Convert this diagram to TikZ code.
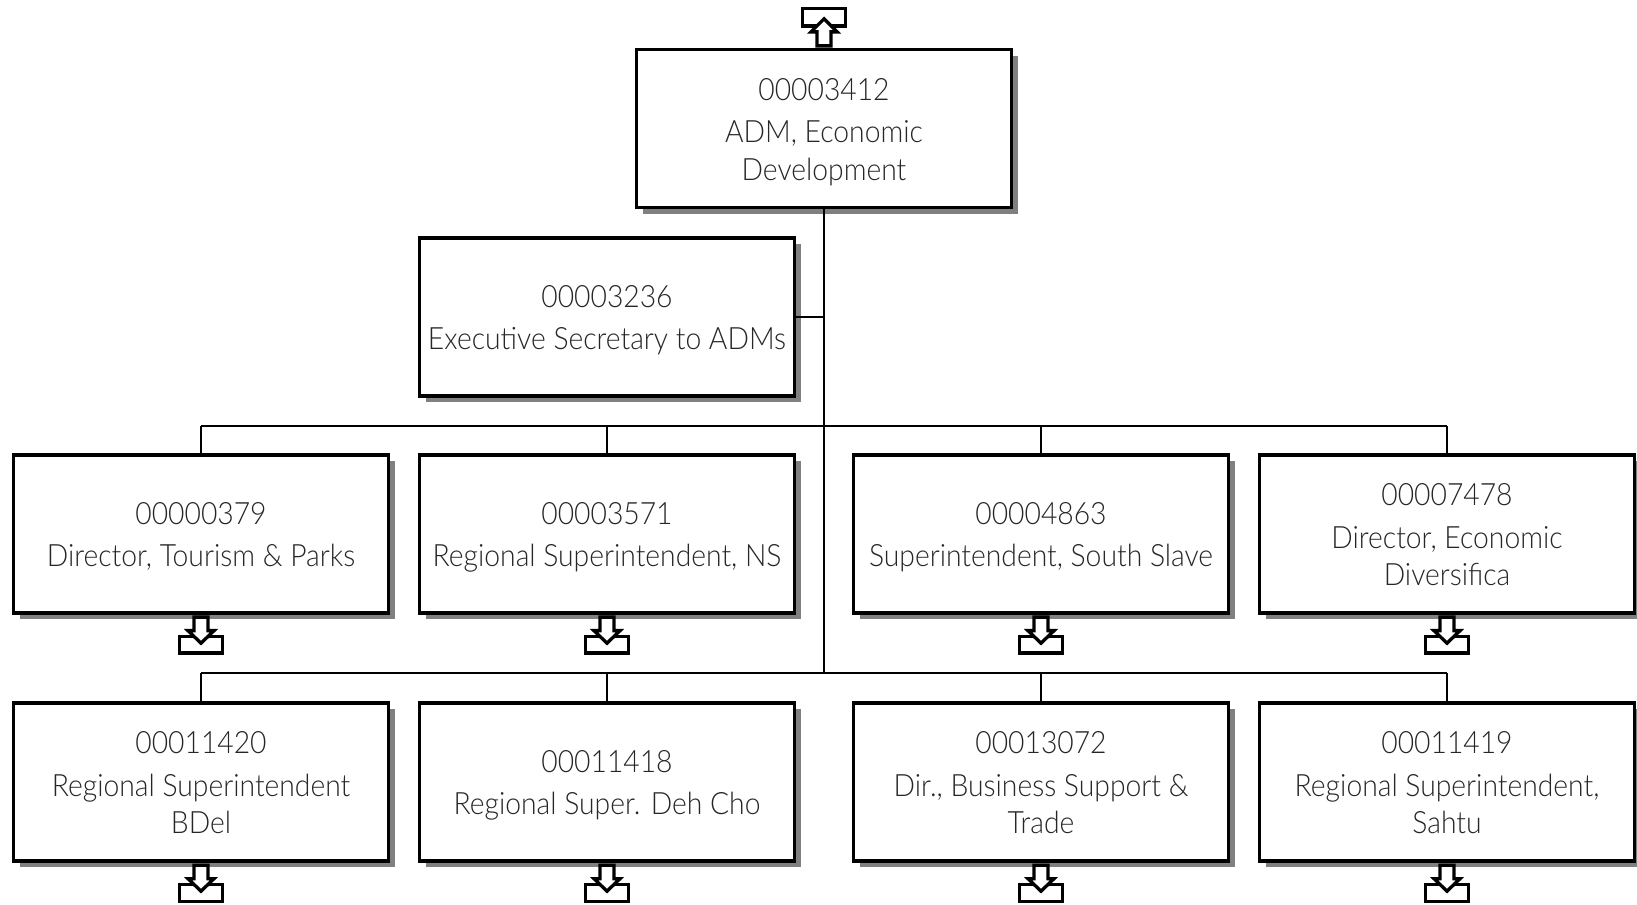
\documentclass[tikz,border=0pt]{standalone}
\usepackage{fontspec}
\setmainfont{Lato}[UprightFont=* Light, FakeStretch=0.92]
\usepackage{tikz}
\usetikzlibrary{calc,shadows}
\newcommand{\posn}[2]{\rule{0pt}{0.61cm}#1\\[0.1cm] #2\rule[-0.14cm]{0pt}{0.14cm}}
\tikzstyle{position} = [rectangle, draw, line width=1.9pt, fill=white, text centered, text=black!85, minimum width=7.5cm, minimum height=3.16cm, inner sep=0pt, align=center, font=\fontsize{17.5}{21.3}\selectfont, drop shadow={shadow xshift=0.125cm, shadow yshift=-0.125cm, fill=black!50, opacity=1}]
\tikzstyle{link} = [line width=1.6pt]
\tikzstyle{icon} = [line width=1.9pt, line join=miter, fill=white]
\tikzset{
    pics/downbox/.style={code={
        \draw[icon] (-21.5,22) rectangle (21.5,38.5);
        \draw[icon] (-7,2.5) -- (7,2.5) -- (7,16) -- (13,16) -- (0,28.5) -- (-13,16) -- (-7,16) -- cycle;
    }},
    pics/upbox/.style={code={
        \draw[icon] (-21.5,-39.5) rectangle (21.5,-22);
        \draw[icon] (-7,-2) -- (7,-2) -- (7,-16) -- (13,-16) -- (0,-29) -- (-13,-16) -- (-7,-16) -- cycle;
    }}
}

\begin{document}
\begin{tikzpicture}[x=0.02cm, y=-0.02cm]
    \useasboundingbox (0, 0) rectangle (1637, 904);

    % reporting lines go first, boxes sit on top of them
    \coordinate (trunk_end) at (824, 673);
    \coordinate (sec_join) at (824, 317);
    \coordinate (one_a) at (201, 426);
    \coordinate (one_d) at (1447, 426);
    \coordinate (two_a) at (201, 673);
    \coordinate (two_d) at (1447, 673);

    \node[position] at (824, 128.5) (adm) {\posn{00003412}{ADM, Economic\\ Development}};
    \node[position] at (607, 317) (secretary) {\posn{00003236}{Executive Secretary to ADMs}};

    \node[position] at (201, 534) (tourism) {\posn{00000379}{Director, Tourism \& Parks}};
    \node[position] at (607, 534) (northslave) {\posn{00003571}{Regional Superintendent, NS}};
    \node[position] at (1041, 534) (southslave) {\posn{00004863}{Superintendent, South Slave}};
    \node[position] at (1447, 534) (diversification) {\posn{00007478}{Director, Economic\\ Diversifica}};

    \node[position] at (201, 782) (bdel) {\posn{00011420}{Regional Superintendent\\ BDel}};
    \node[position] at (607, 782) (dehcho) {\posn{00011418}{Regional Super. Deh Cho}};
    \node[position] at (1041, 782) (business) {\posn{00013072}{Dir., Business Support \&\\ Trade}};
    \node[position] at (1447, 782) (sahtu) {\posn{00011419}{Regional Superintendent,\\ Sahtu}};

    \draw[link] (adm.south) -- (trunk_end);
    \draw[link] (secretary.east) -- (sec_join);
    \draw[link] (one_a) -- (one_d);
    \draw[link] (two_a) -- (two_d);
    \draw[link] (one_a) -- (tourism.north);
    \draw[link] (northslave.north) -- (northslave.north |- one_a);
    \draw[link] (southslave.north) -- (southslave.north |- one_a);
    \draw[link] (one_d) -- (diversification.north);
    \draw[link] (two_a) -- (bdel.north);
    \draw[link] (dehcho.north) -- (dehcho.north |- two_a);
    \draw[link] (business.north) -- (business.north |- two_a);
    \draw[link] (two_d) -- (sahtu.north);

    \pic at (adm.north) {upbox};
    \foreach \name in {tourism, northslave, southslave, diversification, bdel, dehcho, business, sahtu}
        \pic at (\name.south) {downbox};
\end{tikzpicture}
\end{document}
